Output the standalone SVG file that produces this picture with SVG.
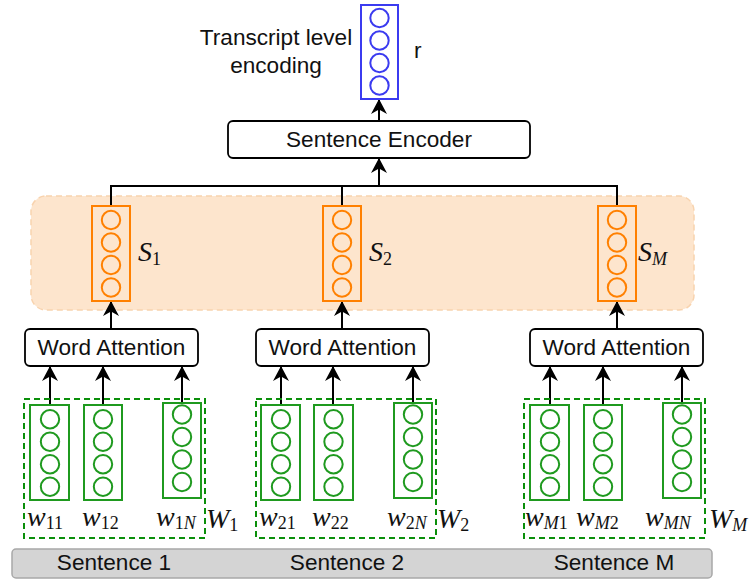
<svg xmlns="http://www.w3.org/2000/svg" xmlns:xlink="http://www.w3.org/1999/xlink" width="756" height="580" viewBox="0 0 756 580">
<style>
  .lbl { font-family: "Liberation Sans", Arial, sans-serif; font-size: 22.6px; fill: #111; }
  .box { fill: #fff; stroke: #000; stroke-width: 1.8; }
  .vb { fill: none; stroke: #3b3bf0; stroke-width: 2; }
  .vo { fill: none; stroke: #ff8000; stroke-width: 2; }
  .vg { fill: none; stroke: #1f9a1f; stroke-width: 2; }
  .grp { fill: none; stroke: #0a8f0a; stroke-width: 2; stroke-dasharray: 6 4; }
  .band { fill: #fde5cd; stroke: #f8d3ae; stroke-width: 1.5; stroke-dasharray: 6 4; }
  .bar { fill: #d4d4d4; stroke: #a8a8a8; stroke-width: 1.5; }
  .m { font-family: "Liberation Serif", "Times New Roman", serif; font-size: 28px; font-style: italic; fill: #111; }
  .sub { font-size: 18px; font-style: normal; }
  .subi { font-size: 18px; font-style: italic; }
  .conn { fill: none; stroke: #000; stroke-width: 2; }
</style>
<defs>
  <marker id="arr" viewBox="0 0 16 16" refX="14" refY="8" markerWidth="16" markerHeight="16" markerUnits="userSpaceOnUse" orient="auto">
    <path d="M15,8 L0,0 L4.5,8 L0,16 Z" fill="#000"/>
  </marker>
  <g id="c4">
    <circle cx="0" cy="0" r="9.2"/>
    <circle cx="0" cy="22.5" r="9.2"/>
    <circle cx="0" cy="45" r="9.2"/>
    <circle cx="0" cy="67.5" r="9.2"/>
  </g>
</defs>

<!-- background band -->
<g id="sentence-band">
  <rect class="band" x="31" y="196" width="663" height="114" rx="15"/>
</g>

<!-- bottom bar -->
<g id="sentence-bar">
  <rect class="bar" x="12" y="549" width="700" height="29" rx="4"/>
  <text class="lbl" x="114" y="570" text-anchor="middle">Sentence 1</text>
  <text class="lbl" x="347" y="570" text-anchor="middle">Sentence 2</text>
  <text class="lbl" x="614" y="570" text-anchor="middle">Sentence M</text>
</g>

<!-- connectors -->
<g id="connectors">
  <line class="conn" x1="379" y1="121" x2="379" y2="100" marker-end="url(#arr)"/>
  <polyline class="conn" points="111,206 111,186 617,186 617,206"/>
  <line class="conn" x1="342" y1="186" x2="342" y2="206"/>
  <line class="conn" x1="379" y1="186" x2="379" y2="159" marker-end="url(#arr)"/>
  <line class="conn" x1="111" y1="329" x2="111" y2="302" marker-end="url(#arr)"/>
  <line class="conn" x1="342" y1="329" x2="342" y2="302" marker-end="url(#arr)"/>
  <line class="conn" x1="617" y1="329" x2="617" y2="302" marker-end="url(#arr)"/>
  <line class="conn" x1="50" y1="405" x2="50" y2="367" marker-end="url(#arr)"/>
  <line class="conn" x1="103" y1="405" x2="103" y2="367" marker-end="url(#arr)"/>
  <line class="conn" x1="182" y1="403" x2="182" y2="367" marker-end="url(#arr)"/>
  <line class="conn" x1="281" y1="405" x2="281" y2="367" marker-end="url(#arr)"/>
  <line class="conn" x1="333" y1="405" x2="333" y2="367" marker-end="url(#arr)"/>
  <line class="conn" x1="413" y1="403" x2="413" y2="367" marker-end="url(#arr)"/>
  <line class="conn" x1="550" y1="405" x2="550" y2="367" marker-end="url(#arr)"/>
  <line class="conn" x1="603" y1="405" x2="603" y2="367" marker-end="url(#arr)"/>
  <line class="conn" x1="682" y1="403" x2="682" y2="367" marker-end="url(#arr)"/>
</g>

<!-- transcript vector r -->
<g id="r-vector">
  <rect class="vb" x="361" y="5" width="37" height="94"/>
  <use href="#c4" class="vb" x="379.5" y="18"/>
  <text class="lbl" x="276" y="45" text-anchor="middle">Transcript level</text>
  <text class="lbl" x="276" y="73" text-anchor="middle">encoding</text>
  <text class="lbl" x="414" y="58">r</text>
</g>

<g id="sentence-encoder">
  <rect class="box" x="228" y="121" width="302" height="37" rx="5"/>
  <text class="lbl" x="379" y="147" text-anchor="middle">Sentence Encoder</text>
</g>

<!-- sentence vectors -->
<g id="s1">
  <rect class="vo" x="92" y="206" width="38" height="95"/>
  <use href="#c4" class="vo" x="111" y="220"/>
  <text class="m" x="138" y="261">S<tspan class="sub" dy="4">1</tspan></text>
</g>
<g id="s2">
  <rect class="vo" x="323" y="206" width="38" height="95"/>
  <use href="#c4" class="vo" x="342" y="220"/>
  <text class="m" x="369" y="261">S<tspan class="sub" dy="4">2</tspan></text>
</g>
<g id="sM">
  <rect class="vo" x="598" y="206" width="38" height="95"/>
  <use href="#c4" class="vo" x="617" y="220"/>
  <text class="m" x="638" y="261">S<tspan class="subi" dy="4">M</tspan></text>
</g>

<!-- word attention -->
<g id="wa1">
  <rect class="box" x="25" y="329" width="173" height="37" rx="5"/>
  <text class="lbl" x="111.5" y="355" text-anchor="middle">Word Attention</text>
</g>
<g id="wa2">
  <rect class="box" x="256" y="329" width="173" height="37" rx="5"/>
  <text class="lbl" x="342.5" y="355" text-anchor="middle">Word Attention</text>
</g>
<g id="waM">
  <rect class="box" x="530" y="329" width="173" height="37" rx="5"/>
  <text class="lbl" x="616.5" y="355" text-anchor="middle">Word Attention</text>
</g>

<!-- word groups -->
<g id="words1">
  <rect class="grp" x="24" y="399" width="181" height="139"/>
  <rect class="vg" x="30" y="405" width="39" height="95"/>
  <use href="#c4" class="vg" x="50" y="419.3"/>
  <rect class="vg" x="84" y="405" width="38" height="95"/>
  <use href="#c4" class="vg" x="103" y="419.3"/>
  <rect class="vg" x="163" y="403" width="38" height="95"/>
  <use href="#c4" class="vg" x="182" y="414.5"/>
  <text class="m" x="27" y="526">w<tspan class="sub" dy="3">11</tspan></text>
  <text class="m" x="82" y="526">w<tspan class="sub" dy="3">12</tspan></text>
  <text class="m" x="156" y="526">w<tspan class="sub" dy="3">1</tspan><tspan class="subi">N</tspan></text>
  <text class="m" x="206" y="528">W<tspan class="sub" dy="3">1</tspan></text>
</g>
<g id="words2">
  <rect class="grp" x="256" y="399" width="180" height="139"/>
  <rect class="vg" x="261" y="405" width="39" height="95"/>
  <use href="#c4" class="vg" x="281" y="419.3"/>
  <rect class="vg" x="314" y="405" width="39" height="95"/>
  <use href="#c4" class="vg" x="333.5" y="419.3"/>
  <rect class="vg" x="394" y="403" width="38" height="95"/>
  <use href="#c4" class="vg" x="413" y="414.5"/>
  <text class="m" x="259" y="526">w<tspan class="sub" dy="3">21</tspan></text>
  <text class="m" x="312" y="526">w<tspan class="sub" dy="3">22</tspan></text>
  <text class="m" x="387" y="526">w<tspan class="sub" dy="3">2</tspan><tspan class="subi">N</tspan></text>
  <text class="m" x="437" y="528">W<tspan class="sub" dy="3">2</tspan></text>
</g>
<g id="wordsM">
  <rect class="grp" x="524" y="399" width="181" height="139"/>
  <rect class="vg" x="530" y="405" width="39" height="95"/>
  <use href="#c4" class="vg" x="550" y="419.3"/>
  <rect class="vg" x="584" y="405" width="38" height="95"/>
  <use href="#c4" class="vg" x="603" y="419.3"/>
  <rect class="vg" x="663" y="403" width="38" height="95"/>
  <use href="#c4" class="vg" x="682" y="414.5"/>
  <text class="m" x="525" y="526">w<tspan class="subi" dy="3">M</tspan><tspan class="sub">1</tspan></text>
  <text class="m" x="576" y="526">w<tspan class="subi" dy="3">M</tspan><tspan class="sub">2</tspan></text>
  <text class="m" x="645" y="526">w<tspan class="subi" dy="3">MN</tspan></text>
  <text class="m" x="709" y="528">W<tspan class="subi" dy="3">M</tspan></text>
</g>
</svg>
